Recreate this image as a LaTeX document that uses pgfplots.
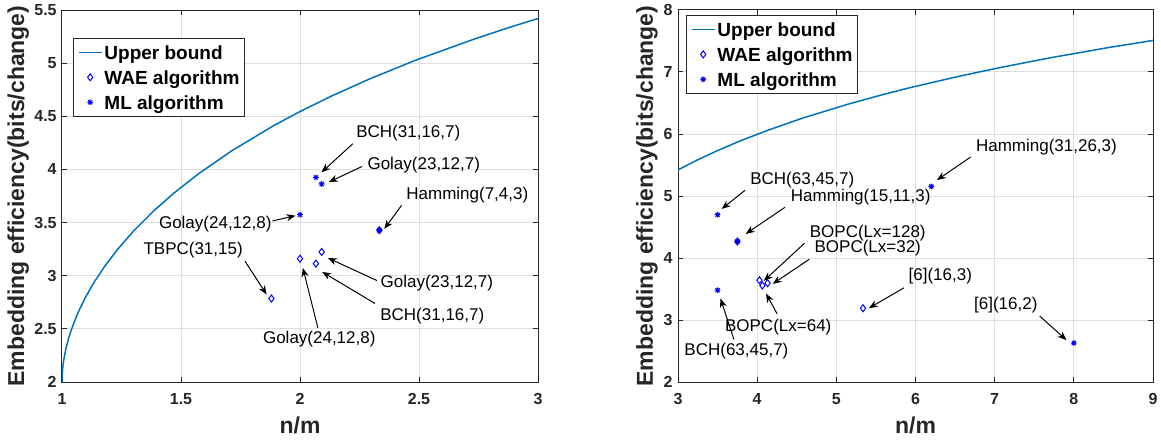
\documentclass[border=0pt]{standalone}
\usepackage{pgfplots}
\pgfplotsset{compat=1.18}
\usepackage{fontspec}
\setmainfont{Liberation Sans}
\usetikzlibrary{arrows.meta}
\definecolor{mblue}{rgb}{0,0.447,0.741}
\definecolor{axgray}{rgb}{0.15,0.15,0.15}
\definecolor{gridgray}{rgb}{0.875,0.875,0.875}
\pgfdeclareplotmark{mstar}{%
  \pgfpathmoveto{\pgfqpoint{-\pgfplotmarksize}{0pt}}\pgfpathlineto{\pgfqpoint{\pgfplotmarksize}{0pt}}%
  \pgfpathmoveto{\pgfqpoint{0pt}{-\pgfplotmarksize}}\pgfpathlineto{\pgfqpoint{0pt}{\pgfplotmarksize}}%
  \pgfpathmoveto{\pgfqpoint{-.707\pgfplotmarksize}{-.707\pgfplotmarksize}}\pgfpathlineto{\pgfqpoint{.707\pgfplotmarksize}{.707\pgfplotmarksize}}%
  \pgfpathmoveto{\pgfqpoint{-.707\pgfplotmarksize}{.707\pgfplotmarksize}}\pgfpathlineto{\pgfqpoint{.707\pgfplotmarksize}{-.707\pgfplotmarksize}}%
  \pgfusepathqstroke}
\newcommand{\tickfont}{\fontsize{8}{9}\selectfont\bfseries}
\newcommand{\labfont}{\fontsize{11.5}{13}\selectfont\bfseries}
\tikzset{
  ann/.style={font=\fontsize{8.5}{10}\selectfont, inner sep=0pt, anchor=center},
  arr/.style={-{Stealth[length=4.5pt,width=3.5pt]}, line width=0.5pt, black},
}
\pgfplotsset{
  mystyle/.style={
    scale only axis, width=238pt, height=186pt,
    axis line style={axgray, line width=0.5pt},
    tick align=inside, major tick length=2.5pt,
    tick style={axgray, line width=0.5pt},
    grid=major, major grid style={gridgray, line width=0.5pt},
    /pgf/number format/assume math mode=true,
    xticklabel style={font=\tickfont, text=axgray, anchor=center, yshift=-8.5pt, inner sep=0pt},
    yticklabel style={font=\tickfont, text=axgray, anchor=east, inner sep=0pt, xshift=-2.5pt},
    every axis x label/.style={at={(axis description cs:0.5,-0.1156)}, anchor=center, font=\labfont, text=axgray},
    xlabel={n/m},
    ylabel={Embedding efficiency(bits/change)},
    legend cell align=left,
    legend image code/.code={\path[draw=none,fill=none] (0pt,-1pt) rectangle (11.5pt,1pt);
      \draw[mark repeat=2,mark phase=2] plot coordinates {(0pt,0pt) (5.75pt,0pt) (11.5pt,0pt)};},
    legend style={anchor=north west, draw=axgray,
      font=\fontsize{9.5}{11}\selectfont\bfseries,
      inner xsep=2.3pt, inner ysep=2pt, column sep=1pt, row sep=2.5pt,
      nodes={inner sep=0pt, text height=8.5pt, text depth=1.5pt}},
  },
  wae/.style={only marks, mark=diamond, mark size=1.75pt, blue, mark options={line width=0.5pt, fill=none}},
  ml/.style={only marks, mark=mstar, mark size=1.45pt, blue, mark options={line width=0.5pt}},
}
\begin{document}
\begin{tikzpicture}
\begin{axis}[mystyle, at={(31pt,28.5pt)}, anchor=south west,
  xmin=1, xmax=3, ymin=2, ymax=5.5,
  xtick={1,1.5,2,2.5,3}, ytick={2,2.5,3,3.5,4,4.5,5,5.5},
  every axis y label/.style={at={(axis description cs:-0.0922,0.5)}, anchor=center, rotate=90, font=\labfont, text=axgray},
  legend style={at={(0.023,0.925)}}]
\addplot[mblue, line width=0.75pt] table {
1.0000 2.000
1.00029 2.040
1.0012 2.081
1.0026 2.122
1.0046 2.164
1.0073 2.206
1.0165 2.315
1.0299 2.4275
1.0478 2.545
1.0706 2.669
1.0991 2.799
1.1347 2.938
1.1785 3.0855
1.2326 3.245
1.3001 3.419
1.3852 3.610
1.4704 3.778
1.5765 3.964
1.7117 4.173
1.8890 4.412
2.0004 4.545
2.1322 4.690
2.2910 4.850
2.4863 5.028
2.7330 5.227
2.8820 5.338
3.0544 5.457
};
\addlegendentry{Upper bound}
\addplot[wae] table {
1.88 2.785
2.0 3.16
2.0667 3.114
2.0909 3.224
2.3333 3.428
};
\addlegendentry{WAE algorithm}
\addplot[ml] table {
2.0 3.574
2.0667 3.925
2.0909 3.863
2.3333 3.428
};
\addlegendentry{ML algorithm}
\node[ann] at (axis cs:2.455,4.342) {BCH(31,16,7)};
\draw[arr] (axis cs:2.222,4.242) -- (axis cs:2.090,3.972);
\node[ann] at (axis cs:2.520,4.038) {Golay(23,12,7)};
\draw[arr] (axis cs:2.261,4.028) -- (axis cs:2.121,3.881);
\node[ann] at (axis cs:2.703,3.762) {Hamming(7,4,3)};
\draw[arr] (axis cs:2.427,3.662) -- (axis cs:2.354,3.440);
\node[ann] at (axis cs:1.644,3.490) {Golay(24,12,8)};
\draw[arr] (axis cs:1.884,3.515) -- (axis cs:1.981,3.565);
\node[ann] at (axis cs:1.551,3.239) {TBPC(31,15)};
\draw[arr] (axis cs:1.769,3.136) -- (axis cs:1.860,2.823);
\node[ann] at (axis cs:2.575,2.933) {Golay(23,12,7)};
\draw[arr] (axis cs:2.323,2.955) -- (axis cs:2.117,3.167);
\node[ann] at (axis cs:2.556,2.616) {BCH(31,16,7)};
\draw[arr] (axis cs:2.315,2.739) -- (axis cs:2.093,3.036);
\node[ann] at (axis cs:2.081,2.400) {Golay(24,12,8)};
\draw[arr] (axis cs:2.075,2.510) -- (axis cs:2.012,3.074);
\end{axis}
\begin{axis}[mystyle, at={(339pt,28.5pt)}, anchor=south west, width=237.5pt,
  xmin=3, xmax=9, ymin=2, ymax=8,
  xtick={3,4,5,6,7,8,9}, ytick={2,3,4,5,6,7,8},
  every axis y label/.style={at={(axis description cs:-0.0653,0.5)}, anchor=center, rotate=90, font=\labfont, text=axgray},
  legend style={at={(0.0168,0.9866)}}]
\addplot[mblue, line width=0.75pt] table {
2.8820 5.338
3.0544 5.457
3.2546 5.587
3.4916 5.728
3.7771 5.884
4.1276 6.057
4.5685 6.254
5.1440 6.480
5.5831 6.634
5.9287 6.747
6.5561 6.933
7.0701 7.072
7.6888 7.226
8.4495 7.397
8.9000 7.488
9.0457 7.520
};
\addlegendentry{Upper bound}
\addplot[wae] table {
3.75 4.267
4.029 3.641
4.066 3.556
4.132 3.594
5.337 3.19
};
\addlegendentry{WAE algorithm}
\addplot[ml] table {
3.5 4.698
3.5 3.48
3.75 4.267
6.2 5.154
8.0 2.628
};
\addlegendentry{ML algorithm}
\node[ann] at (axis cs:7.654,5.794) {Hamming(31,26,3)};
\draw[arr] (axis cs:6.696,5.628) -- (axis cs:6.271,5.257);
\node[ann] at (axis cs:4.570,5.263) {BCH(63,45,7)};
\draw[arr] (axis cs:3.846,5.091) -- (axis cs:3.551,4.791);
\node[ann] at (axis cs:5.308,4.984) {Hamming(15,11,3)};
\draw[arr] (axis cs:4.350,4.817) -- (axis cs:3.855,4.388);
\node[ann] at (axis cs:5.397,4.404) {BOPC(Lx=128)};
\draw[arr] (axis cs:4.598,4.238) -- (axis cs:4.084,3.631);
\node[ann] at (axis cs:5.397,4.152) {BOPC(Lx=32)};
\draw[arr] (axis cs:4.659,3.980) -- (axis cs:4.196,3.583);
\node[ann] at (axis cs:4.266,2.880) {BOPC(Lx=64)};
\draw[arr] (axis cs:4.252,3.100) -- (axis cs:4.112,3.427);
\node[ann] at (axis cs:3.738,2.499) {BCH(63,45,7)};
\draw[arr] (axis cs:3.706,2.687) -- (axis cs:3.537,3.347);
\node[ann] at (axis cs:6.313,3.706) {[6](16,3)};
\draw[arr] (axis cs:5.855,3.519) -- (axis cs:5.411,3.191);
\node[ann] at (axis cs:7.140,3.234) {[6](16,2)};
\draw[arr] (axis cs:7.570,3.062) -- (axis cs:7.907,2.676);
\end{axis}
\pgfresetboundingbox
\useasboundingbox (0pt,0pt) rectangle (580.5pt,219.5pt);
\end{tikzpicture}
\end{document}
